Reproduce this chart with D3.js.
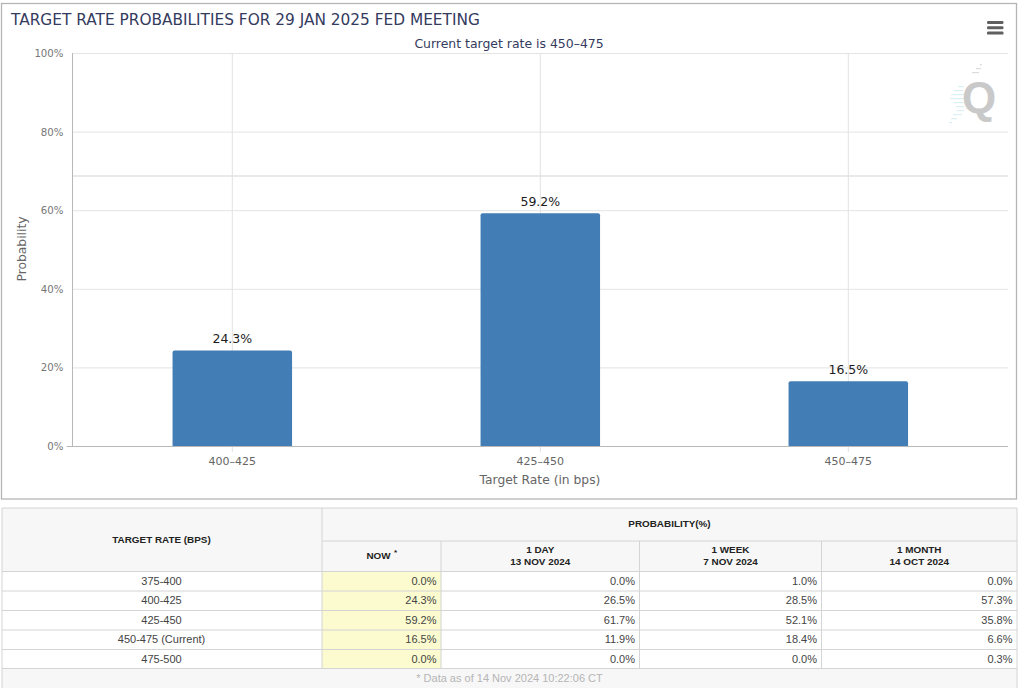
<!DOCTYPE html>
<html><head><meta charset="utf-8">
<script src="https://cdn.jsdelivr.net/npm/d3@7"></script>
<style>html,body{margin:0;padding:0;background:#fff}svg{display:block}</style></head>
<body><svg id="c" width="1024" height="688"></svg>
<script>
const categories = ["400-425","425-450","450-475"];
const probabilities = [24.3,59.2,16.5];
const yTicks = [0,20,40,60,80,100];
const rateRows = ["375-400","400-425","425-450","450-475 (Current)","475-500"];
const nowCol = ["0.0%","24.3%","59.2%","16.5%","0.0%"];
const dayCol = ["0.0%","26.5%","61.7%","11.9%","0.0%"];
const weekCol = ["1.0%","28.5%","52.1%","18.4%","0.0%"];
const monthCol = ["0.0%","57.3%","35.8%","6.6%","0.3%"];
const valueCols = [nowCol,dayCol,weekCol,monthCol];
const colHeads = [["NOW"],["1 DAY","13 NOV 2024"],["1 WEEK","7 NOV 2024"],["1 MONTH","14 OCT 2024"]];
const title = "TARGET RATE PROBABILITIES FOR 29 JAN 2025 FED MEETING";
const subtitle = "Current target rate is 450-475";
const footnote = "* Data as of 14 Nov 2024 10:22:06 CT";

const svg = d3.select("#c");
const chartFont = "'DejaVu Sans',sans-serif";
const tableFont = "'Liberation Sans',Arial,sans-serif";
const ink = "#343b5e";

svg.append("rect").attr("x",1.5).attr("y",3.5).attr("width",1015).attr("height",495.5).attr("fill","#fff").attr("stroke","#b5b5b5").attr("stroke-width",1.3);

const x = d3.scaleBand().domain(categories).range([78.3,1002.3]).paddingInner(0.612).paddingOuter(0.306);
const y = d3.scaleLinear().domain([0,100]).range([446,53]);
const plotL = 72.5, plotR = 1008;

const g = svg.append("g");
g.selectAll("line.h").data(yTicks.filter(d=>d>0)).join("line").attr("class","h")
  .attr("x1",plotL).attr("x2",plotR).attr("y1",d=>y(d)+.5).attr("y2",d=>y(d)+.5).attr("stroke","#e4e4e4");
g.append("line").attr("x1",plotL).attr("x2",plotR).attr("y1",176).attr("y2",176).attr("stroke","#d4d4d4").attr("stroke-width",1.2);
g.selectAll("line.v").data(categories).join("line").attr("class","v")
  .attr("x1",d=>x(d)+x.bandwidth()/2).attr("x2",d=>x(d)+x.bandwidth()/2)
  .attr("y1",53).attr("y2",452).attr("stroke","#e2e2e2");
g.append("line").attr("x1",plotL).attr("x2",plotL).attr("y1",53).attr("y2",446.5).attr("stroke","#b8b8b8");

const r = 2;
svg.append("g").selectAll("path").data(probabilities).join("path")
  .attr("fill","#437db5")
  .attr("d",(d,i)=>{const a=x(categories[i]),b=a+x.bandwidth(),t=y(d),z=y(0);
    return `M${a},${z}V${t+r}Q${a},${t} ${a+r},${t}H${b-r}Q${b},${t} ${b},${t+r}V${z}Z`;});
g.append("line").attr("x1",plotL-6).attr("x2",plotR).attr("y1",446.5).attr("y2",446.5).attr("stroke","#b8b8b8");

svg.append("g").selectAll("text").data(probabilities).join("text")
  .attr("x",(d,i)=>x(categories[i])+x.bandwidth()/2).attr("y",d=>y(d)-7.5)
  .attr("text-anchor","middle").attr("font-family",chartFont).attr("font-size",12.5).attr("fill","#1c1c1c").text(d=>d.toFixed(1)+"%");

svg.append("g").selectAll("text").data(yTicks).join("text")
  .attr("x",63.5).attr("y",d=>y(d)+4).attr("text-anchor","end").attr("font-family",chartFont).attr("font-size",10.2).attr("fill","#777").text(d=>d+"%");
svg.append("g").selectAll("text").data(categories).join("text")
  .attr("x",d=>x(d)+x.bandwidth()/2).attr("y",465).attr("text-anchor","middle").attr("font-family",chartFont).attr("font-size",11).attr("fill","#666").text(d=>d.replace("-","\u2013"));
svg.append("text").attr("x",540).attr("y",484).attr("text-anchor","middle").attr("font-family",chartFont).attr("font-size",12.3).attr("fill","#666").text("Target Rate (in bps)");
svg.append("text").attr("transform","translate(26,249) rotate(-90)").attr("text-anchor","middle").attr("font-family",chartFont).attr("font-size",12.3).attr("fill","#666").text("Probability");
svg.append("text").attr("x",11).attr("y",25).attr("font-family",chartFont).attr("font-size",15.35).attr("fill",ink).text(title);
svg.append("text").attr("x",509).attr("y",48).attr("text-anchor","middle").attr("font-family",chartFont).attr("font-size",12.45).attr("fill",ink).text(subtitle.replace("450-475","450\u2013475"));

svg.append("g").selectAll("rect").data([0,1,2]).join("rect").attr("x",987).attr("y",d=>21+d*5.3).attr("width",16.5).attr("height",3).attr("rx",1.2).attr("fill","#5f5f5f");

// Q logo: [y, x, width]
const dash = [[64,980,2],[68,976,5],[72,972,7],[86,958,6],[90,954,9],[94,951,13],[98,950,14],[102,954,10],[106,956,8],[110,957,7],[114,953,9],[118,951,6],[122,949,3]];
svg.append("g").selectAll("rect").data(dash).join("rect").attr("x",d=>d[1]).attr("y",d=>d[0]).attr("width",d=>d[2]).attr("height",1.2).attr("fill",(d,i)=>i<3?"#dcdcdc":"#d9f1f6");
svg.append("text").attr("x",979).attr("y",113).attr("text-anchor","middle").attr("font-family","'Liberation Sans',Arial,sans-serif").attr("font-weight","bold").attr("font-size",44).attr("fill","#c9c9c9").text("Q");

const colX = [2,322,441,639.5,821.5,1017];
const hTop = 508, hMid = 541, hBot = 571.5;
const rowY = [571.5,591,610.5,630,649.5,668.5];
const t = svg.append("g");
t.append("rect").attr("x",2).attr("y",hTop).attr("width",1015).attr("height",180).attr("fill","#f7f7f7");
t.append("rect").attr("x",2).attr("y",hBot).attr("width",1015).attr("height",rowY[5]-hBot).attr("fill","#fff");
t.append("rect").attr("x",colX[1]).attr("y",hBot).attr("width",colX[2]-colX[1]).attr("height",rowY[5]-hBot).attr("fill","#fbfbcf");
const line=(a,b,c,d,col="#d4d4d4")=>t.append("line").attr("x1",a).attr("y1",b).attr("x2",c).attr("y2",d).attr("stroke",col).attr("stroke-width",1);
line(2,hTop,1017,hTop);
line(2,hTop,2,688); line(1017,hTop,1017,688);
line(colX[1],hTop,colX[1],rowY[5]);
line(colX[1],hMid,1017,hMid);
[2,3,4].forEach(i=>line(colX[i],hMid,colX[i],rowY[5]));
rowY.forEach(v=>line(2,v,1017,v));

const txt=(s,xx,yy,anchor,size,weight,fill)=>t.append("text").attr("x",xx).attr("y",yy).attr("text-anchor",anchor).attr("font-family",tableFont).attr("font-size",size).attr("font-weight",weight).attr("fill",fill).text(s);
txt("TARGET RATE (BPS)",161.5,543,"middle",9.9,"bold","#222");
txt("PROBABILITY(%)",669.5,527,"middle",9.9,"bold","#222");
colHeads.forEach((h,i)=>{
  const cx=(colX[i+1]+colX[i+2])/2;
  if(h.length===1){ txt(h[0],cx-3,558.5,"middle",9.9,"bold","#222"); txt("*",cx+14,555,"middle",8,"bold","#222"); }
  else { txt(h[0],cx,553,"middle",9.9,"bold","#222"); txt(h[1],cx,565,"middle",9.9,"bold","#222"); }
});
rateRows.forEach((s,i)=>txt(s,161.5,rowY[i]+13,"middle",11,"normal","#444"));
valueCols.forEach((c,j)=>c.forEach((s,i)=>txt(s,colX[j+2]-4.5,rowY[i]+13,"end",11,"normal","#444")));
txt(footnote,509.5,682,"middle",11,"normal","#b5b5b5");
</script></body></html>
